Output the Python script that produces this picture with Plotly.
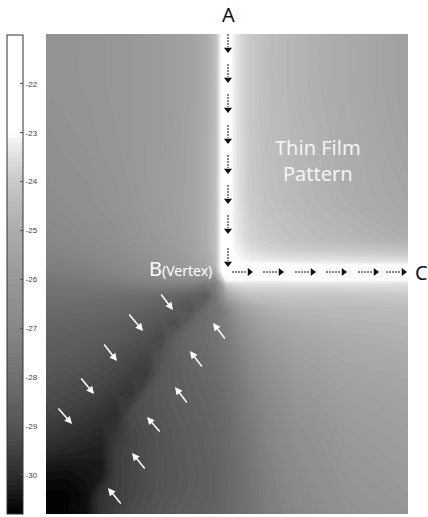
import plotly.graph_objects as go

# ---------------- data ----------------
# grid positions (plot units, x to the right, y downward)
X_POS = [0, 20, 40, 55, 70, 85, 100, 115, 130, 145, 160, 169, 174, 180, 187, 195, 204, 220, 250, 300, 362]
Y_POS = [0, 50, 110, 170, 205, 218, 226, 232, 238, 245, 251, 262, 275, 290, 305, 320, 340, 360, 380, 400,
         420, 440, 460, 480]

# field values (one row per Y_POS entry)
Z_ROWS = [
    [-26.29, -26.24, -26.18, -26.12, -26.06, -26.00, -25.90, -25.80, -25.70, -25.50, -25.05, -24.46, -23.25, -22.0, -23.15, -23.68, -24.00, -24.36, -24.71, -25.10, -25.60],
    [-26.29, -26.24, -26.18, -26.12, -26.06, -26.00, -25.90, -25.80, -25.70, -25.50, -25.05, -24.46, -23.25, -22.0, -23.15, -23.68, -24.00, -24.36, -24.71, -25.10, -25.60],
    [-26.47, -26.35, -26.29, -26.18, -26.12, -26.00, -25.90, -25.80, -25.65, -25.45, -25.00, -24.43, -23.25, -22.0, -23.15, -23.66, -23.98, -24.32, -24.64, -25.00, -25.50],
    [-26.71, -26.59, -26.47, -26.35, -26.24, -26.12, -25.95, -25.80, -25.65, -25.40, -24.96, -24.39, -23.25, -22.0, -23.14, -23.60, -23.92, -24.21, -24.54, -24.89, -25.30],
    [-27.00, -26.88, -26.76, -26.65, -26.47, -26.29, -26.12, -25.95, -25.75, -25.50, -25.00, -24.39, -23.24, -22.0, -23.10, -23.41, -23.75, -23.96, -24.25, -24.57, -24.89],
    [-27.17, -27.09, -27.00, -26.82, -26.65, -26.47, -26.29, -26.06, -25.85, -25.55, -25.05, -24.43, -23.22, -22.0, -23.05, -23.20, -23.45, -23.66, -23.83, -23.94, -24.07],
    [-27.30, -27.22, -27.13, -27.00, -26.82, -26.65, -26.41, -26.18, -25.95, -25.70, -25.20, -24.54, -23.20, -22.0, -23.01, -23.08, -23.18, -23.28, -23.41, -23.49, -23.58],
    [-27.39, -27.30, -27.22, -27.09, -26.94, -26.76, -26.53, -26.29, -26.06, -25.80, -25.35, -24.68, -23.20, -22.0, -22.50, -22.90, -22.90, -22.90, -22.90, -22.90, -22.95],
    [-27.52, -27.43, -27.35, -27.22, -27.09, -26.94, -26.71, -26.47, -26.24, -26.00, -25.80, -25.25, -23.47, -22.0, -22.00, -22.00, -22.00, -22.00, -22.00, -22.00, -22.00],
    [-27.70, -27.61, -27.52, -27.43, -27.30, -27.17, -27.04, -26.88, -26.71, -26.59, -26.65, -26.53, -24.54, -22.8, -22.90, -22.90, -22.90, -22.90, -22.90, -22.90, -22.95],
    [-27.83, -27.78, -27.74, -27.65, -27.57, -27.48, -27.39, -27.35, -27.35, -27.48, -27.74, -27.43, -26.24, -24.18, -23.68, -23.58, -23.54, -23.54, -23.54, -23.54, -23.54],
    [-28.00, -28.00, -28.00, -28.04, -28.07, -28.11, -28.19, -28.30, -28.44, -28.63, -28.74, -27.74, -27.00, -25.70, -24.89, -24.54, -24.29, -24.18, -24.14, -24.11, -24.00],
    [-28.22, -28.22, -28.26, -28.30, -28.33, -28.41, -28.52, -28.67, -28.85, -29.03, -28.15, -27.83, -27.57, -27.13, -26.35, -25.75, -25.35, -24.89, -24.64, -24.54, -24.43],
    [-28.44, -28.48, -28.52, -28.56, -28.63, -28.74, -28.89, -29.05, -29.18, -28.37, -28.07, -27.83, -27.65, -27.39, -27.00, -26.41, -25.95, -25.45, -25.00, -24.79, -24.68],
    [-28.59, -28.63, -28.70, -28.78, -28.89, -29.03, -29.15, -29.33, -28.59, -28.30, -28.07, -27.91, -27.74, -27.57, -27.26, -26.88, -26.41, -25.85, -25.35, -25.00, -24.86],
    [-28.74, -28.81, -28.93, -29.03, -29.13, -29.25, -29.38, -29.08, -28.59, -28.37, -28.19, -28.04, -27.91, -27.74, -27.48, -27.17, -26.76, -26.18, -25.60, -25.20, -25.00],
    [-28.96, -29.05, -29.15, -29.25, -29.38, -29.53, -29.63, -28.89, -28.67, -28.48, -28.30, -28.19, -28.07, -27.91, -27.70, -27.43, -27.09, -26.53, -25.85, -25.45, -25.25],
    [-29.18, -29.28, -29.40, -29.53, -29.68, -29.83, -29.08, -28.89, -28.70, -28.56, -28.41, -28.30, -28.22, -28.07, -27.87, -27.61, -27.30, -26.82, -26.12, -25.65, -25.45],
    [-29.43, -29.55, -29.70, -29.83, -29.98, -29.25, -29.08, -28.93, -28.78, -28.63, -28.48, -28.37, -28.30, -28.19, -28.00, -27.74, -27.48, -27.04, -26.35, -25.80, -25.60],
    [-29.75, -29.88, -30.02, -30.09, -29.75, -29.38, -29.18, -29.03, -28.85, -28.70, -28.56, -28.44, -28.37, -28.26, -28.07, -27.87, -27.61, -27.17, -26.53, -25.95, -25.70],
    [-30.12, -30.20, -30.25, -30.27, -29.58, -29.38, -29.20, -29.05, -28.89, -28.74, -28.59, -28.48, -28.41, -28.30, -28.15, -27.96, -27.70, -27.26, -26.65, -26.06, -25.80],
    [-30.53, -30.55, -30.44, -30.37, -29.58, -29.38, -29.20, -29.05, -28.93, -28.78, -28.63, -28.52, -28.44, -28.33, -28.19, -28.00, -27.78, -27.35, -26.76, -26.18, -25.90],
    [-30.73, -30.73, -30.55, -29.88, -29.58, -29.35, -29.18, -29.03, -28.89, -28.74, -28.63, -28.52, -28.44, -28.33, -28.19, -28.04, -27.83, -27.43, -26.88, -26.29, -26.00],
    [-30.73, -30.71, -30.52, -29.83, -29.53, -29.28, -29.08, -28.93, -28.78, -28.67, -28.56, -28.48, -28.41, -28.30, -28.19, -28.04, -27.87, -27.48, -27.00, -26.41, -26.12],
]

CB_TICKVALS = [-22, -23, -24, -25, -26, -27, -28, -29, -30]
CB_TICKTEXT = ["-22", "-23", "-24", "-25", "-26", "-27", "-28", "-29", "-30"]
Z_MIN, Z_MAX = -30.8, -21.0
LEVEL_STOPS = [-30.8, -30.0, -29.0, -28.0, -27.0, -26.0, -25.0, -24.0, -23.2, -23.0, -21.0]
GRAY_STOPS = [0, 45, 85, 112, 135, 152, 172, 200, 238, 255, 255]

# flow arrows along the pattern edges A -> B -> C
LINE_A_X = 182
A_TIPS_Y = [19, 49, 79, 110, 140, 170, 200, 233]
LINE_C_Y = 238
C_TIPS_X = [207, 238, 270, 301, 333, 361]

# white arrows pointing at the dark diagonal
WA_TIP_X = [127, 97, 71, 48, 26, 167, 144, 129, 101, 86, 62]
WA_TIP_Y = [276, 297, 327, 360, 390, 289, 317, 353, 383, 419, 454]
WA_TAIL_X = [114, 82, 57, 34, 11, 180, 157, 142, 115, 100, 76]
WA_TAIL_Y = [259, 279, 309, 343, 373, 306, 334, 370, 399, 436, 471]

# ---------------- figure ----------------
span = Z_MAX - Z_MIN
colorscale = [[(lv - Z_MIN) / span, f"rgb({g},{g},{g})"] for lv, g in zip(LEVEL_STOPS, GRAY_STOPS)]

fig = go.Figure()
fig.add_trace(go.Contour(
    x=X_POS, y=Y_POS, z=Z_ROWS,
    zmin=Z_MIN, zmax=Z_MAX, zauto=False,
    colorscale=colorscale,
    contours=dict(start=Z_MIN, end=Z_MAX, size=0.1, coloring="fill", showlines=False),
    line=dict(width=0),
    colorbar=dict(
        x=-0.108, xanchor="left", xpad=0,
        y=0, yanchor="bottom", ypad=0, len=0.998, lenmode="fraction",
        thickness=16, outlinewidth=1, outlinecolor="#333",
        tickmode="array", tickvals=CB_TICKVALS, ticktext=CB_TICKTEXT,
        ticks="inside", ticklen=3, tickcolor="#555", tickwidth=1,
        tickfont=dict(size=8, color="#444", family="Liberation Sans"),
    ),
    hoverinfo="skip",
))

# dashed shafts of the black arrows
shaft_x, shaft_y = [], []
for ty in A_TIPS_Y:
    shaft_x += [LINE_A_X, LINE_A_X, None]
    shaft_y += [ty - 19, ty - 6, None]
for tx in C_TIPS_X:
    shaft_x += [tx - 21, tx - 6, None]
    shaft_y += [LINE_C_Y, LINE_C_Y, None]
fig.add_trace(go.Scatter(x=shaft_x, y=shaft_y, mode="lines",
                         line=dict(color="#111", width=1, dash="2px,1px"),
                         hoverinfo="skip", showlegend=False))
fig.add_trace(go.Scatter(x=[LINE_A_X] * len(A_TIPS_Y), y=[t - 3.5 for t in A_TIPS_Y], mode="markers",
                         marker=dict(symbol="triangle-down", size=7, color="#111"),
                         hoverinfo="skip", showlegend=False))
fig.add_trace(go.Scatter(x=[t - 3.5 for t in C_TIPS_X], y=[LINE_C_Y] * len(C_TIPS_X), mode="markers",
                         marker=dict(symbol="triangle-right", size=7, color="#111"),
                         hoverinfo="skip", showlegend=False))

annotations = []
for tx, ty, ax_, ay_ in zip(WA_TIP_X, WA_TIP_Y, WA_TAIL_X, WA_TAIL_Y):
    annotations.append(dict(x=tx, y=ty, ax=ax_, ay=ay_, xref="x", yref="y", axref="x", ayref="y",
                            text="", showarrow=True, arrowhead=2, arrowsize=1, arrowwidth=1.5,
                            arrowcolor="white"))

FONT = "Noto Sans"
annotations += [
    dict(x=LINE_A_X, y=1.04, xref="x", yref="paper", text="A", showarrow=False,
         font=dict(family=FONT, size=20, color="#111"), xanchor="center", yanchor="middle"),
    dict(x=1.036, y=LINE_C_Y, xref="paper", yref="y", text="C", showarrow=False,
         font=dict(family=FONT, size=20, color="#111"), xanchor="center", yanchor="middle"),
    dict(x=168, y=234, xref="x", yref="y",
         text="B<span style='font-size:14px'>(Vertex)</span>", showarrow=False,
         font=dict(family=FONT, size=20, color="white"), xanchor="right", yanchor="middle"),
    dict(x=272, y=126, xref="x", yref="y", text="Thin Film<br>Pattern", showarrow=False,
         font=dict(family=FONT, size=20, color="#f4f4f4"), xanchor="center", yanchor="middle"),
]

fig.update_layout(
    width=428, height=517,
    margin=dict(l=46, r=20, t=34, b=3, autoexpand=False),
    paper_bgcolor="white", plot_bgcolor="white",
    showlegend=False,
    xaxis=dict(range=[0, 362], visible=False, fixedrange=True),
    yaxis=dict(range=[480, 0], visible=False, fixedrange=True),
    annotations=annotations,
)

# remove the page's default body margin so the figure sits at the window's corner
fig.write_html("out.html", config={"displayModeBar": False},
               post_script="document.body.style.margin='0';document.body.style.overflow='hidden';")
